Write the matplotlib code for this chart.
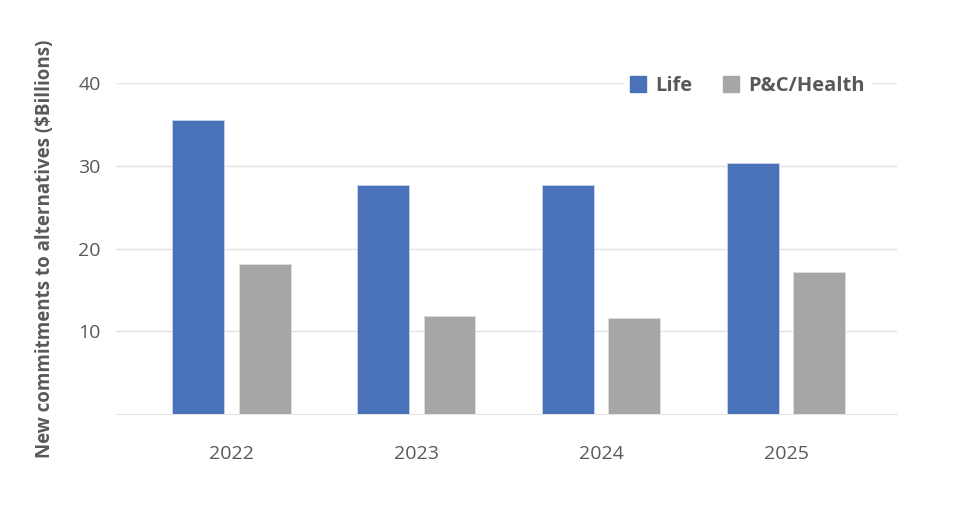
import matplotlib.pyplot as plt
import numpy as np
from matplotlib.patches import Patch

years = ["2022", "2023", "2024", "2025"]
life = [35.5, 27.7, 27.7, 30.3]
pc_health = [18.1, 11.9, 11.65, 17.1]

BLUE = "#4A72B8"
GRAY = "#A6A6A6"
TEXT = "#595959"

plt.rcParams["font.family"] = ["Open Sans", "DejaVu Sans"]

fig = plt.figure(figsize=(9.76, 5.13), dpi=100)
ax = fig.add_axes([116 / 976, 1 - 414 / 513, (897 - 116) / 976, (414 - 83) / 513])

x = np.arange(len(years))
w = 0.281
off = 0.179
ax.bar(x - off, life, w, color=BLUE, edgecolor="#c9d4ea", linewidth=0.6, zorder=3)
ax.bar(x + off, pc_health, w, color=GRAY, edgecolor="#dddddd", linewidth=0.6, zorder=3)

ax.set_xlim(-0.625, 3.6)
ax.set_ylim(0, 40)
ax.set_yticks([10, 20, 30, 40])
ax.set_xticks(x)
ax.set_xticklabels(years)
ax.grid(axis="y", color="#e3e3e3", linewidth=1, zorder=0)
ax.tick_params(axis="both", length=0, labelsize=14, labelcolor=TEXT)
ax.tick_params(axis="x", pad=22)
ax.tick_params(axis="y", pad=11)
for s in ["top", "right", "left"]:
    ax.spines[s].set_visible(False)
ax.spines["bottom"].set_color("#e3e3e3")

fig.text(45 / 976, 1 - 249 / 513, "New commitments to alternatives ($Billions)",
         rotation=90, ha="center", va="center", fontsize=13.5,
         fontweight="bold", color=TEXT)

handles = [Patch(color=BLUE, label="Life"), Patch(color=GRAY, label="P&C/Health")]
leg = ax.legend(handles=handles, loc="center left", ncol=2,
                bbox_to_anchor=(614 / 976, 1 - 86 / 513), bbox_transform=fig.transFigure,
                frameon=True, facecolor="white", edgecolor="white", framealpha=1,
                handlelength=0.8, handleheight=0.8, columnspacing=1.5, handletextpad=0.45,
                prop={"weight": "bold", "size": 14.5}, borderpad=0.3)
for t in leg.get_texts():
    t.set_color(TEXT)
leg.set_zorder(5)

fig.savefig("out.png", dpi=100)
